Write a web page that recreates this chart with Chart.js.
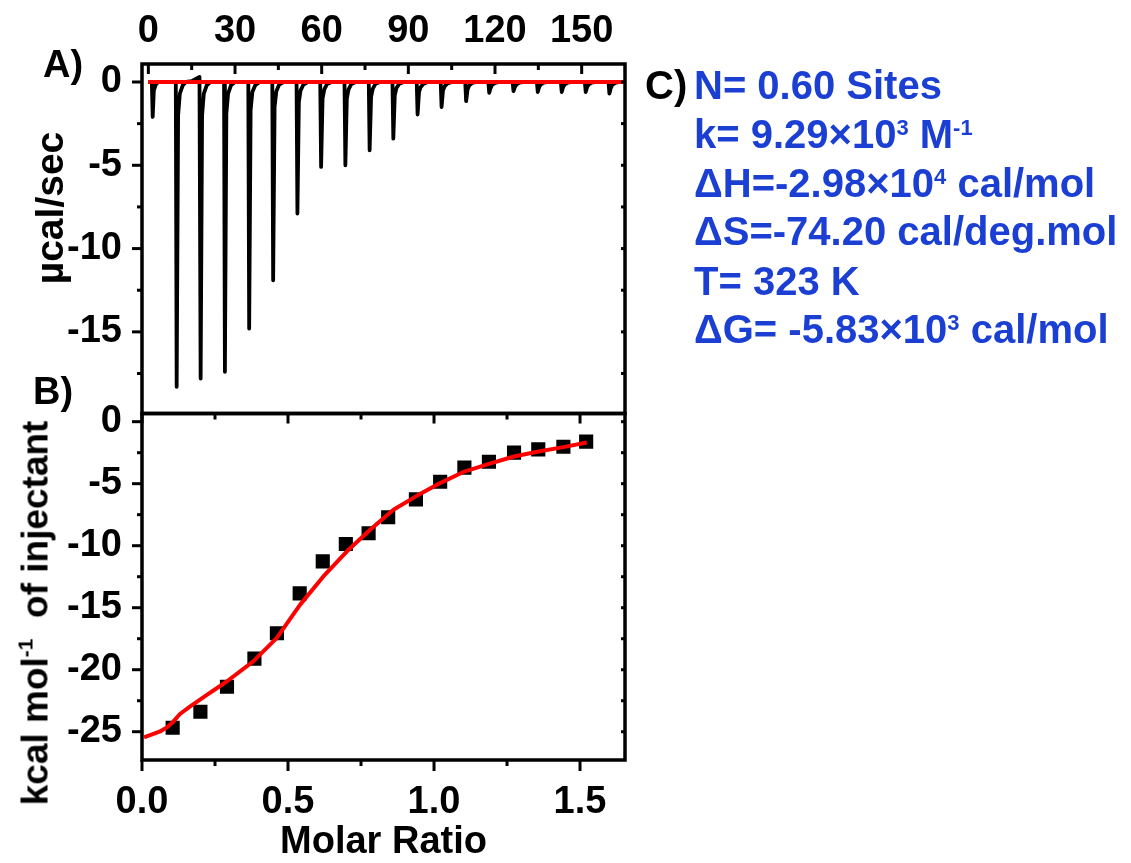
<!DOCTYPE html>
<html>
<head>
<meta charset="utf-8">
<script src="https://cdn.jsdelivr.net/npm/chart.js@4.4.1/dist/chart.umd.min.js"></script>
<style>
  html, body { margin: 0; padding: 0; background: #fff; }
  #wrap { position: relative; width: 1131px; height: 863px; overflow: hidden;
          font-family: 'Liberation Sans', Arial, Helvetica, sans-serif; font-weight: bold; }
  canvas { position: absolute; left: 0; top: 0; }
  .lbl { position: absolute; white-space: nowrap; color: #000; }
  .ytitle { position: absolute; white-space: nowrap; line-height: 1;
            transform: translate(-50%, -50%) rotate(-90deg); }
  .param { position: absolute; left: 694px; font-size: 40px; line-height: 40px;
           color: #1a3fd2; white-space: nowrap; }
  .sup { font-size: 22px; vertical-align: 13px; line-height: 0; }
  .ysup { font-size: 21px; vertical-align: 15px; line-height: 0; }
</style>
</head>
<body>
<div id="wrap">
  <canvas id="rawChart" width="1131" height="863"></canvas>
  <canvas id="fitChart" width="1131" height="863"></canvas>

  <div class="lbl" style="left:43px; top:45px; font-size:38px; line-height:38px;">A)</div>
  <div class="lbl" style="left:33px; top:372px; font-size:38px; line-height:38px;">B)</div>
  <div class="ytitle" style="left:49px; top:208px; font-size:39px;">µcal/sec</div>
  <div class="ytitle" style="left:35px; top:613px; font-size:37px;">kcal mol<span class="ysup">-1</span>&nbsp; of injectant</div>

  <div class="lbl" style="left:645px; top:65px; font-size:40px; line-height:40px;">C)</div>
  <div class="param" style="top:65px;">N= 0.60 Sites</div>
  <div class="param" style="top:114px;">k= 9.29×10<span class="sup">3</span> M<span class="sup">-1</span></div>
  <div class="param" style="top:163px;">ΔH=-2.98×10<span class="sup">4</span> cal/mol</div>
  <div class="param" style="top:211px;">ΔS=-74.20 cal/deg.mol</div>
  <div class="param" style="top:261px;">T= 323 K</div>
  <div class="param" style="top:309px;">ΔG= -5.83×10<span class="sup">3</span> cal/mol</div>
</div>

<script>
// A) raw thermogram, time in min / power in µcal/sec
const rawTime = [
    0, 1.2, 1.5, 1.9, 2.6, 3.5,
    9.5, 9.8, 10.3, 10.9, 11.9, 13,
    15, 17.7, 18.1, 18.6, 19.2, 20.2, 21.5,
    26.2, 26.5, 27.0, 27.6, 28.6, 30,
    34.6, 34.9, 35.4, 36.0, 37.0, 38.5,
    42.9, 43.2, 43.7, 44.3, 45.3, 46.8,
    51.3, 51.6, 52.1, 52.7, 53.7, 55.2,
    59.5, 59.8, 60.3, 60.9, 61.9, 63.4,
    67.9, 68.2, 68.7, 69.3, 70.3, 71.8,
    76.3, 76.6, 77.1, 77.7, 78.7, 80.2,
    84.5, 84.8, 85.3, 85.9, 86.9, 88.4,
    92.9, 93.2, 93.7, 94.3, 95.3, 96.8,
    101.2, 101.5, 102.0, 102.6, 103.6, 105.1,
    109.7, 110.0, 110.5, 111.1, 112.1, 113.6,
    117.7, 118.0, 118.5, 119.1, 120.1, 121.6,
    126.1, 126.4, 126.9, 127.5, 128.5, 130,
    134.5, 134.8, 135.3, 135.9, 136.9, 138.4,
    142.8, 143.1, 143.6, 144.2, 145.2, 146.7,
    151.1, 151.4, 151.9, 152.5, 153.5, 155,
    159.3, 159.6, 160.1, 160.7, 161.7, 163
];
const rawPower = [
    0, 0, -2.1, -0.5, -0.15, 0,
    0, -18.3, -2.0, -0.7, -0.2, 0,
    0.05, 0.3, -17.8, -2.0, -0.7, -0.2, 0,
    0, -17.4, -1.9, -0.7, -0.2, 0,
    0, -14.8, -1.7, -0.6, -0.2, 0,
    0, -11.9, -1.5, -0.55, -0.15, 0,
    0, -7.9, -1.2, -0.5, -0.15, 0,
    0, -5.1, -1.0, -0.45, -0.12, 0,
    0, -5.0, -1.0, -0.45, -0.12, 0,
    0, -4.1, -0.9, -0.4, -0.1, 0,
    0, -3.4, -0.8, -0.35, -0.1, 0,
    0, -1.95, -0.6, -0.3, -0.1, 0,
    0, -1.5, -0.5, -0.25, -0.08, 0,
    0, -1.15, -0.45, -0.2, -0.06, 0,
    0, -0.65, -0.35, -0.15, -0.05, 0,
    0, -0.55, -0.3, -0.14, -0.04, 0,
    0, -0.6, -0.3, -0.14, -0.04, 0,
    0, -0.6, -0.3, -0.14, -0.04, 0,
    0, -0.6, -0.3, -0.14, -0.04, 0,
    0, -0.7, -0.35, -0.15, -0.05, 0
];
const baseTime = [0, 165];
const basePower = [0, 0];

// B) integrated heats vs molar ratio
const injRatio = [0.105, 0.200, 0.291, 0.385, 0.462, 0.540, 0.619, 0.698, 0.776,
                  0.843, 0.938, 1.021, 1.104, 1.188, 1.274, 1.357, 1.443, 1.521];
const injHeat = [-24.68, -23.39, -21.37, -19.11, -17.06, -13.84, -11.26, -9.86, -9.00,
                 -7.71, -6.26, -4.84, -3.71, -3.23, -2.50, -2.23, -2.02, -1.61];
const fitRatio = [0.007, 0.062, 0.085, 0.107, 0.130, 0.164, 0.221, 0.290, 0.381, 0.461,
                  0.541, 0.621, 0.701, 0.781, 0.861, 0.941, 1.021, 1.104, 1.188, 1.274,
                  1.358, 1.443, 1.523];
const fitHeat = [-25.46, -24.98, -24.65, -24.19, -23.57, -22.98, -22.04, -20.95, -19.33, -17.45,
                 -14.77, -12.48, -10.47, -8.72, -7.10, -5.98, -4.95, -4.02, -3.40, -2.81,
                 -2.40, -2.05, -1.68];

// tick values
const timeMajor = [0, 30, 60, 90, 120, 150];
const timeMinor = [15, 45, 75, 105, 135];
const powerMajor = [0, -5, -10, -15];
const powerMinor = [-2.5, -7.5, -12.5, -17.5];
const ratioMajor = [0, 0.5, 1.0, 1.5];
const ratioMinor = [0.25, 0.75, 1.25];
const heatMajor = [0, -5, -10, -15, -20, -25];
const heatMinor = [-2.5, -7.5, -12.5, -17.5, -22.5];

const toPoints = (xs, ys) => xs.map((x, i) => ({ x: x, y: ys[i] }));

Chart.defaults.font.family = "'Liberation Sans', Arial, Helvetica, sans-serif";
Chart.defaults.font.weight = 'bold';
Chart.defaults.color = '#000';

// box around the plot area + Origin style tick marks (len > 0 = inward)
const framePlugin = {
    id: 'frame',
    afterDraw(chart, args, opts) {
        const { ctx, chartArea: a, scales } = chart;
        ctx.save();
        ctx.strokeStyle = '#000';
        ctx.lineWidth = 3;
        ctx.lineCap = 'butt';
        (opts.marks || []).forEach(m => {
            const sc = scales[m.scale];
            m.values.forEach(v => {
                const p = sc.getPixelForValue(v);
                ctx.beginPath();
                if (m.side === 'left') { ctx.moveTo(a.left, p); ctx.lineTo(a.left + m.len, p); }
                if (m.side === 'right') { ctx.moveTo(a.right, p); ctx.lineTo(a.right - m.len, p); }
                if (m.side === 'top') { ctx.moveTo(p, a.top); ctx.lineTo(p, a.top + m.len); }
                if (m.side === 'bottom') { ctx.moveTo(p, a.bottom); ctx.lineTo(p, a.bottom - m.len); }
                ctx.stroke();
            });
        });
        ctx.lineWidth = 3.5;
        ctx.strokeRect(a.left, a.top, a.right - a.left, a.bottom - a.top);
        ctx.restore();
    }
};

const tickFont = { size: 38 };
const noGrid = { display: false, drawTicks: false };

new Chart(document.getElementById('rawChart'), {
    type: 'scatter',
    data: {
        datasets: [
            { data: toPoints(baseTime, basePower), showLine: true, borderColor: '#ff0000',
              borderWidth: 4, pointRadius: 0 },
            { data: toPoints(rawTime, rawPower), showLine: true, borderColor: '#000',
              borderWidth: 3.8, pointRadius: 0, borderJoinStyle: 'round' }
        ]
    },
    options: {
        responsive: false,
        animation: false,
        devicePixelRatio: 1,
        layout: { padding: { left: 0, top: 0, right: 506, bottom: 449.5 } },
        plugins: {
            legend: { display: false },
            tooltip: { enabled: false },
            frame: {
                marks: [
                    { scale: 'x', side: 'top', values: timeMajor, len: 10 },
                    { scale: 'x', side: 'top', values: timeMinor, len: 6 },
                    { scale: 'y', side: 'left', values: powerMajor, len: -10 },
                    { scale: 'y', side: 'left', values: powerMinor, len: -5 },
                    { scale: 'y', side: 'right', values: powerMajor.concat(powerMinor), len: 4 }
                ]
            }
        },
        scales: {
            x: {
                type: 'linear', position: 'top', min: -2.2, max: 165,
                grid: noGrid, border: { display: false },
                ticks: { stepSize: 30, includeBounds: false, autoSkip: false, maxRotation: 0,
                         padding: 10, font: tickFont },
                afterFit: s => { s.height = 64; }
            },
            y: {
                min: -19.9, max: 1.08,
                grid: noGrid, border: { display: false },
                ticks: { stepSize: 5, includeBounds: false, autoSkip: false, padding: 20, font: tickFont },
                afterFit: s => { s.width = 142; }
            }
        }
    },
    plugins: [framePlugin]
});

new Chart(document.getElementById('fitChart'), {
    type: 'scatter',
    data: {
        datasets: [
            { data: toPoints(fitRatio, fitHeat), showLine: true, borderColor: '#ff0000',
              borderWidth: 4, pointRadius: 0, borderJoinStyle: 'round' },
            { data: toPoints(injRatio, injHeat), showLine: false, pointStyle: 'rect',
              pointRadius: 10, backgroundColor: '#000', borderColor: '#000', borderWidth: 0 }
        ]
    },
    options: {
        responsive: false,
        animation: false,
        devicePixelRatio: 1,
        layout: { padding: { left: 0, top: 413.5, right: 506, bottom: 0 } },
        plugins: {
            legend: { display: false },
            tooltip: { enabled: false },
            frame: {
                marks: [
                    { scale: 'x', side: 'bottom', values: ratioMajor, len: -11 },
                    { scale: 'x', side: 'bottom', values: ratioMinor, len: -6 },
                    { scale: 'x', side: 'top', values: ratioMajor, len: 10 },
                    { scale: 'x', side: 'top', values: ratioMinor, len: 6 },
                    { scale: 'y', side: 'left', values: heatMajor, len: -10 },
                    { scale: 'y', side: 'left', values: heatMinor, len: -5 },
                    { scale: 'y', side: 'right', values: heatMajor.concat(heatMinor), len: 4 }
                ]
            }
        },
        scales: {
            x: {
                type: 'linear', position: 'bottom', min: 0, max: 1.654,
                grid: noGrid, border: { display: false },
                ticks: { stepSize: 0.5, includeBounds: false, autoSkip: false, maxRotation: 0,
                         padding: 20, font: tickFont, callback: v => v.toFixed(1) },
                title: { display: true, text: 'Molar Ratio', font: { size: 38, lineHeight: 1 },
                         padding: { top: 0, bottom: 1 } },
                afterFit: s => { s.height = 103; }
            },
            y: {
                min: -27.28, max: 0.66,
                grid: noGrid, border: { display: false },
                ticks: { stepSize: 5, includeBounds: false, autoSkip: false, padding: 20, font: tickFont },
                afterFit: s => { s.width = 142; }
            }
        }
    },
    plugins: [framePlugin]
});
</script>
</body>
</html>
